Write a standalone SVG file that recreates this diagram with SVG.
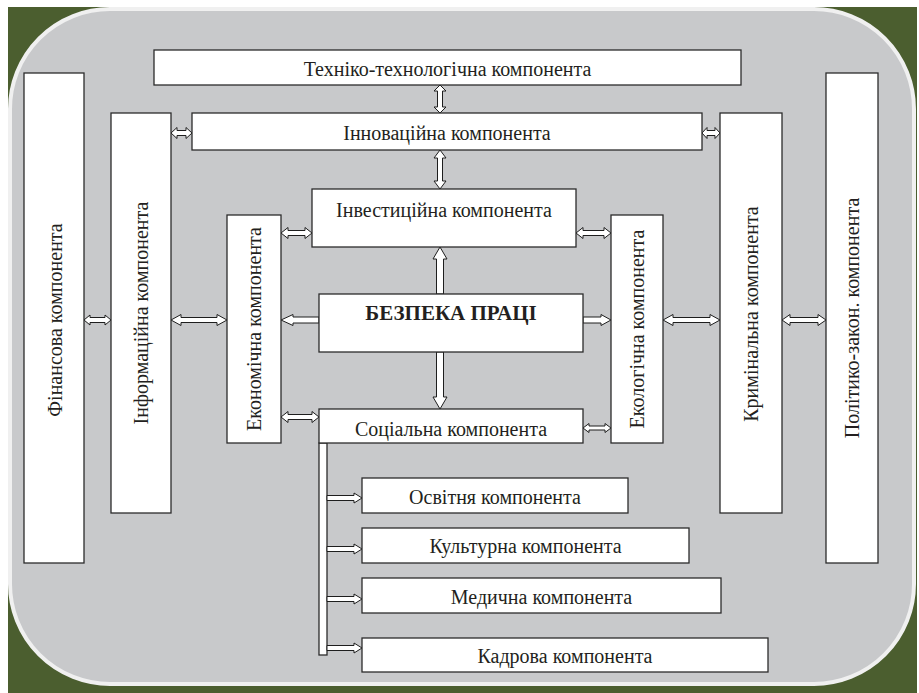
<svg xmlns="http://www.w3.org/2000/svg" width="919" height="693" viewBox="0 0 919 693">
<style>
.box{fill:#ffffff;stroke:#2b2b2b;stroke-width:1.3}
.arr{fill:#ffffff;stroke:#1e1e1e;stroke-width:1}
.t{font-size:20px;fill:#231f20;text-anchor:middle}
.b{font-weight:bold;font-size:21px}
</style>
<rect x="0" y="0" width="919" height="693" fill="#ffffff"/>
<rect x="8" y="7" width="909" height="686" fill="#4b5e2f"/>
<rect x="10" y="9" width="904" height="675" rx="100" ry="100" fill="#c8c9cb" stroke="#f0f0f0" stroke-width="4"/>

<g id="connectors">
<path class="arr" d="M440,85 L446,91 L442.5,91 L442.5,107 L446,107 L440,113 L434,107 L437.5,107 L437.5,91 L434,91 Z"/>
<path class="arr" d="M440,150 L446,158 L442.5,158 L442.5,181 L446,181 L440,189 L434,181 L437.5,181 L437.5,158 L434,158 Z"/>
<path class="arr" d="M440,247 L447,259 L443.5,259 L443.5,294 L436.5,294 L436.5,259 L433,259 Z"/>
<path class="arr" d="M440,409 L447,397 L443.5,397 L443.5,352 L436.5,352 L436.5,397 L433,397 Z"/>
<path class="arr" d="M84,320 L90,315 L90,317.5 L105,317.5 L105,315 L111,320 L105,325 L105,322.5 L90,322.5 L90,325 Z"/>
<path class="arr" d="M171,320 L181,314.5 L181,317.5 L217,317.5 L217,314.5 L227,320 L217,325.5 L217,322.5 L181,322.5 L181,325.5 Z"/>
<path class="arr" d="M281,320 L293,314.5 L293,317 L319,317 L319,323 L293,323 L293,325.5 Z"/>
<path class="arr" d="M611,320 L601,314.5 L601,317 L583,317 L583,323 L601,323 L601,325.5 Z"/>
<path class="arr" d="M663,320 L673,314.5 L673,317.5 L710,317.5 L710,314.5 L720,320 L710,325.5 L710,322.5 L673,322.5 L673,325.5 Z"/>
<path class="arr" d="M782,320 L790,314.5 L790,317.5 L818,317.5 L818,314.5 L826,320 L818,325.5 L818,322.5 L790,322.5 L790,325.5 Z"/>
<path class="arr" d="M171,133 L177,127.5 L177,130.5 L186,130.5 L186,127.5 L192,133 L186,138.5 L186,135.5 L177,135.5 L177,138.5 Z"/>
<path class="arr" d="M702,133 L707,127.5 L707,130.5 L715,130.5 L715,127.5 L720,133 L715,138.5 L715,135.5 L707,135.5 L707,138.5 Z"/>
<path class="arr" d="M281,233 L288,227.5 L288,230.5 L305,230.5 L305,227.5 L312,233 L305,238.5 L305,235.5 L288,235.5 L288,238.5 Z"/>
<path class="arr" d="M576,233 L583,227.5 L583,230.5 L604,230.5 L604,227.5 L611,233 L604,238.5 L604,235.5 L583,235.5 L583,238.5 Z"/>
<path class="arr" d="M281,417 L288,411.5 L288,414.5 L312,414.5 L312,411.5 L319,417 L312,422.5 L312,419.5 L288,419.5 L288,422.5 Z"/>
<path class="arr" d="M583,428 L589,423.5 L589,426 L605,426 L605,423.5 L611,428 L605,432.5 L605,430 L589,430 L589,432.5 Z"/>
<rect class="box" x="319" y="443" width="8" height="212"/>
<path class="arr" d="M327,495.5 L354,495.5 L354,493 L362,498 L354,503 L354,500.5 L327,500.5 Z"/>
<path class="arr" d="M327,546.5 L354,546.5 L354,544 L362,549 L354,554 L354,551.5 L327,551.5 Z"/>
<path class="arr" d="M327,596.5 L354,596.5 L354,594 L362,599 L354,604 L354,601.5 L327,601.5 Z"/>
<path class="arr" d="M327,645.5 L354,645.5 L354,643 L362,648 L354,653 L354,650.5 L327,650.5 Z"/>
</g>

<g font-family="'Liberation Serif', 'Times New Roman', serif">
<g id="techno"><rect class="box" x="154" y="50" width="587" height="35"/><text class="t" x="447.5" y="76">Техніко-технологічна компонента</text></g>
<g id="innov"><rect class="box" x="192" y="113" width="510" height="37"/><text class="t" x="447" y="140">Інноваційна компонента</text></g>
<g id="invest"><rect class="box" x="312" y="189" width="264" height="58"/><text class="t" x="444" y="217">Інвестиційна компонента</text></g>
<g id="bezpeka"><rect class="box" x="319" y="294" width="264" height="58"/><text class="t b" x="451" y="320">БЕЗПЕКА ПРАЦІ</text></g>
<g id="social"><rect class="box" x="319" y="409" width="264" height="34"/><text class="t" x="451" y="436">Соціальна компонента</text></g>
<g id="finance"><rect class="box" x="24" y="73" width="60" height="490"/><text class="t" font-size="22" transform="translate(62,320) rotate(-90)">Фінансова компонента</text></g>
<g id="info"><rect class="box" x="111" y="113" width="60" height="400"/><text class="t" font-size="21" transform="translate(148,313) rotate(-90)">Інформаційна компонента</text></g>
<g id="econ"><rect class="box" x="227" y="215" width="54" height="228"/><text class="t" font-size="20.5" transform="translate(261,329) rotate(-90)">Економічна компонента</text></g>
<g id="ecol"><rect class="box" x="611" y="215" width="52" height="228"/><text class="t" font-size="20.5" transform="translate(644,329) rotate(-90)">Екологічна компонента</text></g>
<g id="crim"><rect class="box" x="720" y="113" width="62" height="400"/><text class="t" font-size="21.5" transform="translate(758,314) rotate(-90)">Кримінальна компонента</text></g>
<g id="polit"><rect class="box" x="826" y="73" width="52" height="490"/><text class="t" font-size="21.5" transform="translate(859,318) rotate(-90)">Політико-закон. компонента</text></g>
<g id="osvita"><rect class="box" x="362" y="478" width="266" height="35"/><text class="t" x="495" y="504">Освітня компонента</text></g>
<g id="kultura"><rect class="box" x="362" y="528" width="327" height="35"/><text class="t" x="525.5" y="553">Культурна компонента</text></g>
<g id="medyc"><rect class="box" x="362" y="578" width="359" height="35"/><text class="t" x="541.5" y="604">Медична компонента</text></g>
<g id="kadry"><rect class="box" x="362" y="638" width="406" height="34"/><text class="t" x="565" y="663">Кадрова компонента</text></g>
</g>
</svg>
